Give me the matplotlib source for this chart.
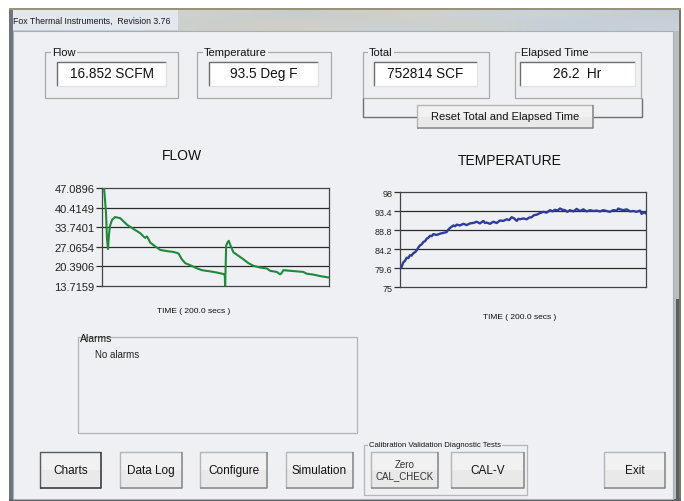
import matplotlib
matplotlib.use("Agg")
import matplotlib.pyplot as plt
from matplotlib.patches import Rectangle
import numpy as np

plt.rcParams['font.family'] = ['Liberation Sans', 'DejaVu Sans']

# ---------------- data ----------------
window_title = "Fox Thermal Instruments,  Revision 3.76"
readout_labels = ["Flow", "Temperature", "Total", "Elapsed Time"]
readout_values = ["16.852 SCFM", "93.5 Deg F", "752814 SCF", "26.2  Hr"]
reset_label = "Reset Total and Elapsed Time"
button_labels = ["Charts", "Data Log", "Configure", "Simulation"]
cal_group_label = "Calibration Validation Diagnostic Tests"
cal_buttons = ["Zero\nCAL_CHECK", "CAL-V"]
exit_label = "Exit"
alarm_title = "Alarms"
alarm_text = "No alarms"

flow_title = "FLOW"
temp_title = "TEMPERATURE"
time_label = "TIME ( 200.0 secs )"

flow_ticklabels = ["13.7159", "20.3906", "27.0654", "33.7401", "40.4149", "47.0896"]
temp_ticklabels = ["75", "79.6", "84.2", "88.8", "93.4", "98"]

flow_t = [1.8, 2.6, 3.5, 4.4, 5.3, 6.2, 7.0, 8.8, 11.5, 16.1, 22.0, 27.9, 33.7,
          36.5, 38.1, 39.6, 41.1, 42.5, 46.9, 51.3, 57.2, 63.1, 67.4, 70.4, 73.3,
          77.7, 83.6, 88.0, 95.3, 101.2, 107.0, 108.2, 108.5, 109.4, 110.5, 111.7,
          112.9, 115.8, 120.2, 124.6, 129.0, 133.4, 139.3, 145.2, 148.1, 154.0,
          156.9, 158.0, 159.8, 165.7, 171.6, 177.4, 180.4, 186.2, 192.1, 200.0]
flow_v = [47.09, 43.3, 38.9, 29.7, 26.3, 31.4, 34.1, 36.2, 37.2, 36.8, 34.6, 33.1, 31.7,
          30.6, 30.1, 30.6, 29.6, 28.5, 27.2, 26.0, 25.6, 25.3, 24.8, 22.8, 21.5,
          20.8, 19.75, 19.1, 18.7, 18.3, 17.8, 17.4, 13.72, 27.5, 28.5, 29.1,
          27.8, 25.2, 24.0, 22.8, 21.5, 20.6, 20.0, 19.7, 18.9, 18.5,
          17.7, 18.0, 19.1, 18.9, 18.7, 18.5, 17.9, 17.6, 17.1, 16.6]

temp_t = [0, 1.4, 2.7, 4, 5.4, 6.8, 8.1, 9.5, 10.8, 12.2, 13.6, 15, 16.3, 17.6, 19.0,
          20.4, 21.7, 23, 24.4, 25.8, 27.1, 29.8, 32.5, 35.2, 37.9, 39.3, 40.7, 42,
          43.4, 44.8, 46.1, 48.8, 51.5, 54.2, 56.9, 59.6, 62.3, 65, 67.8, 69.1, 70.5,
          73.2, 75.9, 78.6, 81.3, 84, 86.7, 88.7, 90.8, 92.8, 94.9, 96.2, 97.6, 100.3,
          103, 105, 107, 109, 111.1, 113.8, 116.5, 119.2, 122, 124, 126, 128, 130.1,
          132, 134.1, 136, 138.2, 141, 143.6, 146.3, 149.1, 151.8, 154.5, 157.2,
          159.9, 162.6, 165.3, 168, 170.7, 173.4, 176.2, 177.5, 178.9, 181.6, 184.3,
          187, 189.7, 192.4, 195.1, 196.5, 198, 200]
temp_v = [79.4, 79.9, 81.0, 81.3, 82.1, 82.0, 82.7, 82.6, 83.2, 83.4, 83.9, 84.6, 85.1,
          85.3, 85.9, 86.1, 86.7, 86.9, 87.4, 87.3, 87.8, 87.6, 87.9, 88.1, 88.3, 88.9,
          89.3, 89.6, 89.9, 89.7, 90.1, 89.9, 90.3, 90.0, 90.4, 90.5, 90.8, 90.4, 91.0,
          90.5, 90.6, 90.3, 90.8, 90.5, 91.1, 91.0, 91.4, 91.2, 91.9, 91.6, 91.0, 91.5,
          91.4, 91.6, 91.4, 91.8, 91.9, 92.4, 92.5, 92.9, 93.2, 93.0, 93.6, 93.3, 93.7,
          93.5, 94.0, 93.7, 93.6, 93.2, 93.6, 93.3, 93.9, 93.4, 93.8, 93.3, 93.6, 93.4,
          93.5, 93.3, 93.6, 93.4, 93.2, 93.6, 93.5, 94.0, 93.8, 93.6, 93.8, 93.3, 93.4,
          93.2, 93.5, 92.7, 93.1, 92.8]

# ---------------- figure ----------------
W, H = 684, 502
BG = '#eef0f3'
fig = plt.figure(figsize=(W / 100, H / 100), dpi=100)
fig.patch.set_facecolor('white')
ax = fig.add_axes([0, 0, 1, 1])
ax.set_xlim(0, W)
ax.set_ylim(H, 0)
ax.axis('off')


def rect(x0, y0, x1, y1, fc='none', ec='none', lw=1.0, z=1):
    ax.add_patch(Rectangle((x0, y0), x1 - x0, y1 - y0, facecolor=fc,
                           edgecolor=ec, linewidth=lw, zorder=z))


def line(xs, ys, c, lw=1.0, z=3):
    ax.plot(xs, ys, color=c, lw=lw, zorder=z, solid_capstyle='butt')


# window frame
rect(9, 9, 681, 502, fc='#b9c3cb', z=0)
# aero title bar gradient
bar = np.array([[[0.80, 0.84, 0.88], [0.78, 0.82, 0.85], [0.83, 0.82, 0.78],
                 [0.74, 0.79, 0.84], [0.85, 0.82, 0.74], [0.78, 0.82, 0.86],
                 [0.80, 0.83, 0.86], [0.76, 0.80, 0.84]],
                [[0.76, 0.80, 0.85], [0.82, 0.83, 0.82], [0.79, 0.80, 0.80],
                 [0.84, 0.82, 0.76], [0.77, 0.81, 0.85], [0.83, 0.82, 0.78],
                 [0.76, 0.81, 0.85], [0.79, 0.82, 0.85]]])
ax.imshow(bar, extent=(9, 681, 32, 9), aspect='auto', interpolation='bicubic', zorder=0.5)
rect(11, 11, 178, 31, fc='#e2e8ee', z=0.6)
ax.text(13, 21, window_title, fontsize=6.3, va='center', ha='left', color='#1a1a1a', zorder=4)
# frame edges
rect(9, 9, 12.5, 502, fc='#6f767b', z=0.7)
rect(673, 32, 681, 502, fc='#b8bec2', z=0.7)
rect(676, 300, 680, 500, fc='#5a5f63', z=0.75)
rect(679, 9, 681, 502, fc='#7d7460', z=0.8)
rect(9, 9, 681, 10.5, fc='#9b9078', z=0.8)
rect(9, 500, 681, 502, fc='#5d6266', z=0.8)
# client area
rect(12.5, 32, 673, 500, fc=BG, ec='#a7afb6', lw=0.8, z=0.9)


def groupbox(x0, y0, x1, y1, label, lx, fs=8, col='#a9a9a9', strike=False):
    rect(x0, y0, x1, y1, ec=col, lw=0.9, z=2)
    if strike:
        ax.text(lx, y0 + 1.5, label, fontsize=fs, va='center', ha='left', color='#111', zorder=5)
    else:
        ax.text(lx, y0, label, fontsize=fs, va='center', ha='left', color='#111', zorder=5,
                bbox=dict(boxstyle='square,pad=0.1', fc=BG, ec='none'))


def textbox(x0, y0, x1, y1, txt):
    rect(x0, y0, x1, y1, fc='white', z=2)
    line([x0, x0, x1], [y1, y0, y0], '#6d6d6d', lw=1.0)
    line([x0, x1, x1], [y1, y1, y0], '#e3e3e3', lw=1.0)
    ax.text((x0 + x1) / 2, (y0 + y1) / 2 - 1, txt, fontsize=9.8, ha='center', va='center',
            color='#111', zorder=5)


def button(x0, y0, x1, y1, txt, fs=8.5, dark=False, col='#111', lsp=1.2):
    rect(x0, y0, x1, y1, fc='#f1f1f1', z=2)
    rect(x0 + 1, y0 + (y1 - y0) * 0.5, x1 - 1, y1 - 1, fc='#e9e9e9', z=2.1)
    ec1 = '#5a5a5a' if dark else '#b5b5b5'
    ec2 = '#3c3c3c' if dark else '#8a8a8a'
    line([x0, x0, x1], [y1, y0, y0], ec1, lw=1.0)
    line([x0, x1, x1], [y1, y1, y0], ec2, lw=1.2)
    ax.text((x0 + x1) / 2, (y0 + y1) / 2, txt, fontsize=fs, ha='center', va='center',
            color=col, zorder=5, linespacing=lsp)


# readouts
gboxes = [(45, 53, 178, 99, 52), (197, 53, 331, 99, 204),
          (363, 53, 489, 99, 369), (515, 53, 641, 99, 521)]
tboxes = [(57, 63, 166, 87), (209, 63, 318, 87), (374, 63, 477, 87), (520, 63, 635, 87)]
for (x0, y0, x1, y1, lx), lab in zip(gboxes, readout_labels):
    groupbox(x0, y0, x1, y1, lab, lx)
for (x0, y0, x1, y1), val in zip(tboxes, readout_values):
    textbox(x0, y0, x1, y1, val)

# bracket + reset button
line([363, 363, 417], [99, 118, 118], '#707070', lw=1.0)
line([593, 642, 642], [118, 118, 99], '#707070', lw=1.0)
button(417, 106, 593, 129, reset_label, fs=8)

# alarms
groupbox(78, 338, 357, 434, alarm_title, 80, fs=7.5, col='#b5b5b5', strike=True)
ax.text(95, 355, alarm_text, fontsize=7, ha='left', va='center', color='#222', zorder=5)

# bottom buttons
bpos = [(40, 453, 101, 489), (120, 453, 182, 489), (200, 453, 267, 489), (286, 453, 353, 489)]
for i, ((x0, y0, x1, y1), lab) in enumerate(zip(bpos, button_labels)):
    button(x0, y0, x1, y1, lab, fs=8.5, dark=(i == 0))
groupbox(364, 446, 527, 496, cal_group_label, 369, fs=5.6, col='#b5b5b5')
button(371, 453, 438, 489, cal_buttons[0], fs=7, col='#333', lsp=1.15)
button(451, 453, 524, 489, cal_buttons[1], fs=8.5)
button(604, 453, 665, 489, exit_label, fs=8.5)

# chart titles / labels
ax.text(182, 156, flow_title, fontsize=10, ha='center', va='center', color='#111', zorder=5)
ax.text(510, 161, temp_title, fontsize=10, ha='center', va='center', color='#111', zorder=5)
ax.text(194, 312, time_label, fontsize=6, ha='center', va='center', color='#111', zorder=5)
ax.text(520, 318, time_label, fontsize=6, ha='center', va='center', color='#111', zorder=5)


def px_axes(x0, y0, x1, y1):
    return fig.add_axes([x0 / W, 1 - y1 / H, (x1 - x0) / W, (y1 - y0) / H])


def style_chart(a, ticklabels, fs):
    vals = [float(s) for s in ticklabels]
    a.set_facecolor(BG)
    a.set_xlim(0, 200)
    a.set_ylim(vals[0], vals[-1])
    a.set_yticks(vals)
    a.set_yticklabels(ticklabels, fontsize=fs, color='#222')
    a.set_xticks([])
    for v in vals[1:-1]:
        a.axhline(v, color='#2a2a2a', lw=0.9, zorder=1)
    for s in a.spines.values():
        s.set_color('#444')
        s.set_linewidth(0.9)
    a.tick_params(axis='y', length=4, width=0.9, color='#333', pad=1.5)


fax = px_axes(102, 189, 329, 287)
style_chart(fax, flow_ticklabels, 8)
fax.plot(flow_t, flow_v, color='#1e8a3a', lw=1.5, zorder=3, clip_on=True)

tax = px_axes(400, 193, 646, 288)
style_chart(tax, temp_ticklabels, 6.5)
tax.plot(temp_t, temp_v, color='#2e3d9c', lw=1.7, zorder=3)

fig.savefig('out.png', dpi=100, facecolor='white')
